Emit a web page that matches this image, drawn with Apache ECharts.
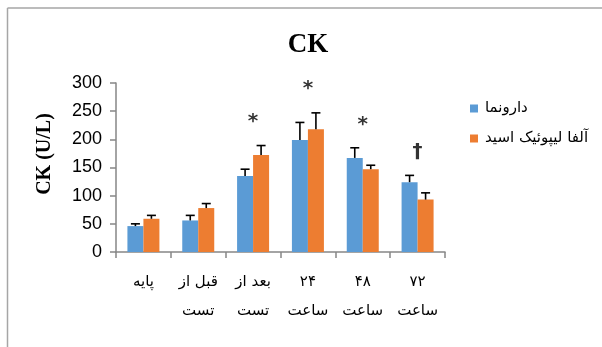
<!DOCTYPE html>
<html><head><meta charset="utf-8">
<script src="https://cdn.jsdelivr.net/npm/echarts@6/dist/echarts.min.js"></script>
<style>html,body{margin:0;padding:0;background:#fff}#c{width:602px;height:347px}</style>
</head><body><div id="c"></div>
<script>
var categories = ['پایه', 'قبل از\nتست', 'بعد از\nتست', '۲۴\nساعت', '۴۸\nساعت', '۷۲\nساعت'];
var seriesNames = ['دارونما', 'آلفا لیپوئیک اسید'];
var placebo = [46, 56, 135, 199, 167, 124];
var placeboErrTop = [50, 65, 147, 230, 185, 136];
var ala = [59, 78, 172, 218, 147, 93];
var alaErrTop = [65, 86, 189, 247, 154, 105];
var sigMarks = ['', '', '*', '*', '*', '†'];
var sigY = [0, 0, 232, 289, 226, 178];
var yTicks = [0, 50, 100, 150, 200, 250, 300];

var BW = 16;
function errSeries(vals, tops, dx) {
  return {
    type: 'custom', z: 5, silent: true,
    data: vals.map(function (v, i) { return [i, v, tops[i]]; }),
    encode: { x: 0, y: [1, 2] },
    renderItem: function (params, api) {
      var p0 = api.coord([api.value(0), api.value(1)]);
      var p1 = api.coord([api.value(0), api.value(2)]);
      var x = p0[0] + dx;
      var st = { stroke: '#000', lineWidth: 1.6 };
      return { type: 'group', children: [
        { type: 'line', shape: { x1: x, y1: p0[1], x2: x, y2: p1[1] }, style: st },
        { type: 'line', shape: { x1: x - 4.5, y1: p1[1], x2: x + 4.5, y2: p1[1] }, style: st }
      ]};
    }
  };
}

var chart = echarts.init(document.getElementById('c'));
chart.setOption({
  animation: false,
  backgroundColor: '#fff',
  grid: { left: 116, right: 157, top: 83, bottom: 95 },
  graphic: [
    { type: 'line', shape: { x1: 7.5, y1: 8, x2: 602, y2: 8 }, style: { stroke: '#a6a6a6', lineWidth: 1.5 } },
    { type: 'line', shape: { x1: 7.5, y1: 8, x2: 7.5, y2: 347 }, style: { stroke: '#a6a6a6', lineWidth: 1.5 } },
    { type: 'text', x: 308, y: 45, style: { text: 'CK', font: 'bold 27px "Liberation Serif", serif', fill: '#000', textAlign: 'center', textVerticalAlign: 'middle' } },
    { type: 'text', x: 45, y: 154, rotation: Math.PI / 2, style: { text: 'CK (U/L)', font: 'bold 20px "Liberation Serif", serif', fill: '#000', textAlign: 'center', textVerticalAlign: 'middle' } }
  ],
  legend: {
    orient: 'vertical', left: 465, top: 96, itemWidth: 8, itemHeight: 8, itemGap: 15,
    icon: 'rect',
    textStyle: { fontFamily: 'DejaVu Sans', fontSize: 15, color: '#000', padding: [0, 0, 0, 2] },
    data: seriesNames
  },
  xAxis: {
    type: 'category', data: categories,
    axisLine: { lineStyle: { color: '#868686', width: 1.5 } },
    axisTick: { show: true, length: 6, lineStyle: { color: '#868686', width: 1.5 } },
    axisLabel: { margin: 16, fontFamily: 'DejaVu Sans', fontSize: 15, lineHeight: 29, color: '#000' }
  },
  yAxis: {
    type: 'value', min: 0, max: 300, interval: 50,
    axisLine: { show: true, lineStyle: { color: '#868686', width: 1.5 } },
    axisTick: { show: true, length: 6, lineStyle: { color: '#868686', width: 1.5 } },
    splitLine: { show: false },
    axisLabel: { margin: 14, fontFamily: 'Liberation Sans', fontSize: 18, color: '#000',
      formatter: function (v) { return yTicks.indexOf(v) >= 0 ? String(v) : ''; } }
  },
  series: [
    { name: seriesNames[0], type: 'bar', data: placebo, barWidth: BW, barGap: '0%', itemStyle: { color: '#5b9bd5' } },
    { name: seriesNames[1], type: 'bar', data: ala, barWidth: BW, barGap: '0%', itemStyle: { color: '#ed7d31' } },
    errSeries(placebo, placeboErrTop, -BW / 2),
    errSeries(ala, alaErrTop, BW / 2),
    {
      type: 'scatter', symbolSize: 0, silent: true, z: 6,
      data: sigMarks.map(function (m, i) { return m ? [i, sigY[i], m] : null; }).filter(Boolean),
      label: { show: true, position: 'inside', formatter: function (p) { return p.value[2]; },
        fontFamily: 'DejaVu Sans', fontWeight: 'bold', fontSize: 20, color: '#000' }
    }
  ]
});
</script></body></html>
